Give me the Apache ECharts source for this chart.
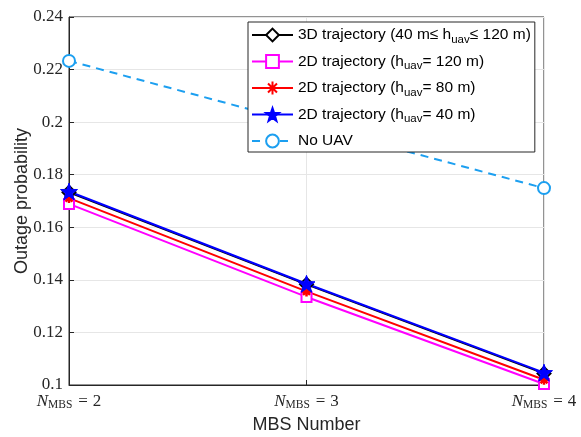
<!DOCTYPE html>
<html><head><meta charset="utf-8">
<script src="https://cdn.jsdelivr.net/npm/echarts@6/dist/echarts.min.js"></script>
<style>html,body{margin:0;padding:0;background:#fff}#c{width:581px;height:437px}</style>
</head><body><div id="c"></div>
<script>
var mbsNumbers = [2, 3, 4];
var yTicks = [0.1, 0.12, 0.14, 0.16, 0.18, 0.2, 0.22, 0.24];
var traj3D = [0.1733, 0.1383, 0.1044];
var traj2D120 = [0.1689, 0.1335, 0.1004];
var traj2D80 = [0.1711, 0.1356, 0.1020];
var traj2D40 = [0.1736, 0.1385, 0.1047];
var noUAV = [0.2233, 0.1991, 0.1749];
var seriesNames = ['3D trajectory (40 m\u2264 h_uav\u2264 120 m)', '2D trajectory (h_uav= 120 m)', '2D trajectory (h_uav= 80 m)', '2D trajectory (h_uav= 40 m)', 'No UAV'];

function pairs(v){ return mbsNumbers.map(function(x,i){return [x, v[i]];}); }
var starPath = 'path://M0,-10L2.35,-3.24L9.51,-3.09L3.8,1.24L5.88,8.09L0,4L-5.88,8.09L-3.8,1.24L-9.51,-3.09L-2.35,-3.24Z';
var asteriskPath = 'path://M0,-10L0,10M-10,0L10,0M-7,-7L7,7M-7,7L7,-7';

var chart = echarts.init(document.getElementById('c'));
var serif = 'Liberation Serif, DejaVu Serif, serif';
var sans = 'Liberation Sans, Arial, sans-serif';
var txt = '#262626';
chart.setOption({
  animation: false,
  grid: {left: 69, right: 37, top: 17, bottom: 52, show: true, borderColor: txt, borderWidth: 1,
         containLabel: false, outerBoundsMode: 'none'},
  legend: {
    orient: 'vertical', left: 248, top: 22, z: 20,
    backgroundColor: '#fff', borderColor: txt, borderWidth: 1,
    padding: [5, 4, 3, 3], itemGap: 8, itemWidth: 41, itemHeight: 16,
    data: seriesNames,
    formatter: function(n){ return n.replace(/h_uav/g, 'h{sub|uav}'); },
    textStyle: {fontFamily: sans, fontSize: 15.5, color: '#000',
      rich: {sub: {fontFamily: sans, fontSize: 11.5, verticalAlign: 'bottom', padding: [9,0,0,0], color: '#000'}}}
  },
  xAxis: {
    type: 'value', min: 2, max: 4, interval: 1,
    name: 'MBS Number', nameLocation: 'middle', nameGap: 31, nameMoveOverlap: false,
    nameTextStyle: {fontFamily: sans, fontSize: 18, color: txt},
    axisLine: {lineStyle: {color: txt}},
    axisTick: {inside: true, length: 5, lineStyle: {color: txt}},
    splitLine: {show: true, lineStyle: {color: '#e6e6e6'}},
    axisLabel: {
      margin: 7,
      formatter: function(v){ return '{n|N}{s|MBS}{t|=}{t2|' + v + '}'; },
      rich: {
        n: {fontFamily: serif, fontStyle: 'italic', fontSize: 17, color: txt},
        s: {fontFamily: serif, fontSize: 11.5, color: txt, verticalAlign: 'bottom', padding: [7,0,0,0]},
        t: {fontFamily: serif, fontSize: 17, color: txt, padding: [0,5,0,6]},
        t2: {fontFamily: serif, fontSize: 17, color: txt}
      }
    }
  },
  yAxis: {
    type: 'value', min: 0.1, max: 0.24, interval: 0.02,
    name: 'Outage probability', nameLocation: 'middle', nameGap: 38, nameMoveOverlap: false,
    nameTextStyle: {fontFamily: sans, fontSize: 18, color: txt},
    axisLine: {show: true, lineStyle: {color: txt}},
    axisTick: {show: true, inside: true, length: 5, lineStyle: {color: txt}},
    splitLine: {show: true, lineStyle: {color: '#e6e6e6'}},
    axisLabel: {fontFamily: serif, fontSize: 17, color: txt, margin: 6,
      formatter: function(v){ return String(Math.round(v*100)/100); }}
  },
  series: [
    {name: seriesNames[0], type: 'line', data: pairs(traj3D), z: 2,
     lineStyle: {color: '#000', width: 2}, itemStyle: {color: '#000', borderColor: '#000', borderWidth: 2},
     symbol: 'emptyDiamond', symbolSize: 13},
    {name: seriesNames[1], type: 'line', data: pairs(traj2D120), z: 2,
     lineStyle: {color: '#ff00ff', width: 2}, itemStyle: {color: '#ff00ff', borderColor: '#ff00ff', borderWidth: 2},
     symbol: 'emptyRect', symbolSize: 10},
    {name: seriesNames[2], type: 'line', data: pairs(traj2D80), z: 2,
     lineStyle: {color: '#ff0000', width: 2}, itemStyle: {color: '#ff0000', borderColor: '#ff0000', borderWidth: 2.5},
     symbol: asteriskPath, symbolSize: 10},
    {name: seriesNames[3], type: 'line', data: pairs(traj2D40), z: 2,
     lineStyle: {color: '#0000ff', width: 2}, itemStyle: {color: '#0000ff', borderColor: '#0000ff', borderWidth: 1},
     symbol: starPath, symbolSize: 17},
    {name: seriesNames[4], type: 'line', data: pairs(noUAV), z: 2,
     lineStyle: {color: '#1c9ff0', width: 2, type: [8, 6]}, itemStyle: {color: '#1c9ff0', borderColor: '#1c9ff0', borderWidth: 2.5},
     symbol: 'emptyCircle', symbolSize: 12}
  ]
});
</script></body></html>
